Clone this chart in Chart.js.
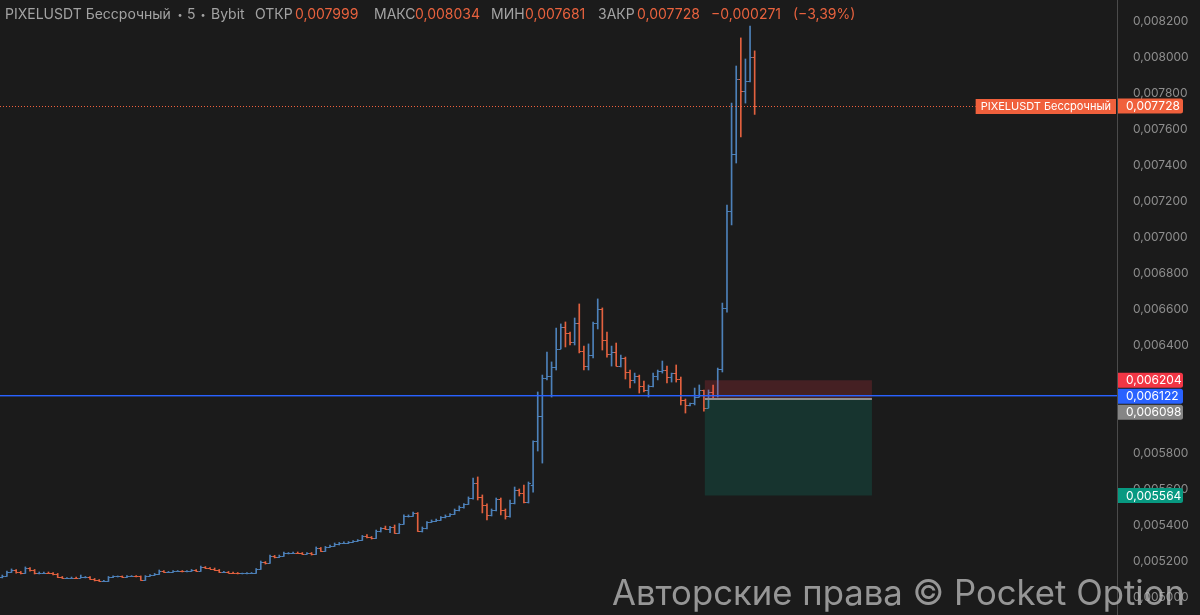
<!DOCTYPE html>
<html>
<head>
<meta charset="utf-8">
<script src="https://cdn.jsdelivr.net/npm/chart.js@4.4.1/dist/chart.umd.min.js"></script>
<style>
html,body{margin:0;background:#1b1b1b;}
canvas{display:block}
</style>
</head>
<body>
<canvas id="chart" width="1200" height="615"></canvas>
<script>
// PIXELUSDT perpetual, 5m bars (Bybit)
const opens=[
0.005111,0.005117,0.005139,0.005150,0.005139,0.005133,0.005161,0.005150,0.005133,0.005133,
0.005136,0.005133,0.005128,0.005111,0.005106,0.005106,0.005108,0.005106,0.005111,0.005111,
0.005100,0.005094,0.005089,0.005089,0.005111,0.005114,0.005114,0.005111,0.005117,0.005117,
0.005114,0.005094,0.005117,0.005122,0.005128,0.005144,0.005139,0.005139,0.005144,0.005144,
0.005142,0.005144,0.005150,0.005144,0.005167,0.005161,0.005158,0.005150,0.005139,0.005139,
0.005136,0.005133,0.005131,0.005131,0.005133,0.005133,0.005156,0.005194,0.005189,0.005228,
0.005222,0.005228,0.005244,0.005244,0.005247,0.005244,0.005239,0.005244,0.005239,0.005272,
0.005256,0.005278,0.005283,0.005294,0.005300,0.005300,0.005306,0.005311,0.005317,0.005339,
0.005333,0.005328,0.005367,0.005383,0.005378,0.005389,0.005356,0.005406,0.005450,0.005450,
0.005467,0.005367,0.005383,0.005417,0.005422,0.005428,0.005444,0.005450,0.005461,0.005483,
0.005500,0.005517,0.005550,0.005633,0.005556,0.005511,0.005456,0.005483,0.005544,0.005483,
0.005450,0.005522,0.005594,0.005578,0.005528,0.005622,0.005867,0.006006,0.006217,0.006228,
0.006278,0.006378,0.006500,0.006467,0.006417,0.006522,0.006367,0.006283,0.006344,0.006522,
0.006600,0.006428,0.006350,0.006361,0.006283,0.006328,0.006250,0.006206,0.006228,0.006172,
0.006150,0.006172,0.006228,0.006256,0.006261,0.006222,0.006244,0.006211,0.006094,0.006067,
0.006078,0.006111,0.006150,0.006050,0.006139,0.006122,0.006267,0.006606,0.007144,0.007461,
0.007878,0.007811,0.007867,0.007999];
const highs=[
0.005122,0.005144,0.005156,0.005153,0.005142,0.005167,0.005164,0.005153,0.005139,0.005139,
0.005139,0.005136,0.005131,0.005114,0.005108,0.005111,0.005111,0.005122,0.005114,0.005114,
0.005103,0.005097,0.005092,0.005114,0.005117,0.005117,0.005117,0.005119,0.005119,0.005119,
0.005117,0.005119,0.005125,0.005131,0.005150,0.005147,0.005142,0.005147,0.005147,0.005147,
0.005147,0.005153,0.005153,0.005172,0.005169,0.005164,0.005161,0.005153,0.005142,0.005142,
0.005139,0.005136,0.005133,0.005136,0.005136,0.005158,0.005200,0.005197,0.005233,0.005231,
0.005233,0.005250,0.005247,0.005250,0.005250,0.005247,0.005247,0.005247,0.005278,0.005275,
0.005281,0.005289,0.005300,0.005303,0.005306,0.005308,0.005314,0.005319,0.005342,0.005347,
0.005336,0.005372,0.005386,0.005394,0.005392,0.005400,0.005408,0.005456,0.005456,0.005472,
0.005469,0.005389,0.005419,0.005428,0.005433,0.005447,0.005456,0.005464,0.005489,0.005506,
0.005519,0.005556,0.005661,0.005667,0.005567,0.005517,0.005489,0.005550,0.005550,0.005489,
0.005539,0.005611,0.005600,0.005622,0.005639,0.005867,0.006139,0.006233,0.006361,0.006306,
0.006494,0.006517,0.006528,0.006472,0.006550,0.006628,0.006394,0.006406,0.006528,0.006656,
0.006606,0.006472,0.006394,0.006411,0.006344,0.006333,0.006261,0.006244,0.006233,0.006200,
0.006178,0.006244,0.006261,0.006311,0.006283,0.006244,0.006289,0.006222,0.006100,0.006078,
0.006161,0.006178,0.006150,0.006150,0.006178,0.006272,0.006633,0.007178,0.007744,0.007950,
0.008106,0.007989,0.008172,0.008034];
const lows=[
0.005106,0.005114,0.005136,0.005133,0.005128,0.005131,0.005144,0.005128,0.005128,0.005131,
0.005131,0.005122,0.005108,0.005103,0.005103,0.005103,0.005103,0.005106,0.005106,0.005097,
0.005089,0.005086,0.005086,0.005086,0.005108,0.005111,0.005108,0.005108,0.005114,0.005111,
0.005092,0.005092,0.005114,0.005119,0.005125,0.005136,0.005136,0.005136,0.005142,0.005139,
0.005139,0.005142,0.005142,0.005142,0.005158,0.005156,0.005147,0.005136,0.005136,0.005133,
0.005131,0.005128,0.005128,0.005128,0.005131,0.005131,0.005153,0.005183,0.005186,0.005217,
0.005219,0.005225,0.005239,0.005242,0.005242,0.005236,0.005236,0.005233,0.005236,0.005253,
0.005253,0.005275,0.005281,0.005289,0.005297,0.005297,0.005303,0.005308,0.005314,0.005328,
0.005322,0.005325,0.005361,0.005375,0.005358,0.005353,0.005353,0.005403,0.005444,0.005447,
0.005364,0.005361,0.005378,0.005414,0.005419,0.005425,0.005439,0.005447,0.005458,0.005478,
0.005494,0.005514,0.005544,0.005539,0.005467,0.005428,0.005450,0.005478,0.005456,0.005433,
0.005444,0.005517,0.005561,0.005522,0.005522,0.005583,0.005811,0.005744,0.006206,0.006111,
0.006261,0.006378,0.006389,0.006400,0.006400,0.006356,0.006261,0.006261,0.006328,0.006489,
0.006372,0.006333,0.006283,0.006283,0.006278,0.006211,0.006161,0.006189,0.006133,0.006139,
0.006111,0.006167,0.006206,0.006244,0.006189,0.006194,0.006194,0.006067,0.006022,0.006061,
0.006067,0.006111,0.006033,0.006050,0.006106,0.006111,0.006250,0.006583,0.007067,0.007411,
0.007556,0.007744,0.007861,0.007681];
const closes=[
0.005117,0.005139,0.005150,0.005139,0.005133,0.005161,0.005150,0.005133,0.005133,0.005136,
0.005133,0.005128,0.005111,0.005106,0.005106,0.005108,0.005106,0.005111,0.005111,0.005100,
0.005094,0.005089,0.005089,0.005111,0.005114,0.005114,0.005111,0.005117,0.005117,0.005114,
0.005094,0.005117,0.005122,0.005128,0.005144,0.005139,0.005139,0.005144,0.005144,0.005142,
0.005144,0.005150,0.005144,0.005167,0.005161,0.005158,0.005150,0.005139,0.005139,0.005136,
0.005133,0.005131,0.005131,0.005133,0.005133,0.005156,0.005194,0.005189,0.005228,0.005222,
0.005228,0.005244,0.005244,0.005247,0.005244,0.005239,0.005244,0.005239,0.005272,0.005256,
0.005278,0.005283,0.005294,0.005300,0.005300,0.005306,0.005311,0.005317,0.005339,0.005333,
0.005328,0.005367,0.005383,0.005378,0.005389,0.005356,0.005406,0.005450,0.005450,0.005467,
0.005367,0.005383,0.005417,0.005422,0.005428,0.005444,0.005450,0.005461,0.005483,0.005500,
0.005517,0.005550,0.005633,0.005556,0.005511,0.005456,0.005483,0.005544,0.005483,0.005450,
0.005522,0.005594,0.005578,0.005528,0.005633,0.005867,0.006006,0.006217,0.006228,0.006278,
0.006378,0.006500,0.006467,0.006417,0.006522,0.006367,0.006283,0.006344,0.006522,0.006600,
0.006428,0.006350,0.006361,0.006283,0.006328,0.006250,0.006206,0.006228,0.006172,0.006150,
0.006172,0.006228,0.006256,0.006261,0.006222,0.006244,0.006211,0.006094,0.006067,0.006078,
0.006111,0.006150,0.006050,0.006139,0.006122,0.006267,0.006606,0.007144,0.007461,0.007878,
0.007811,0.007867,0.007999,0.007728];

const yTicks=[0.0082,0.0080,0.0078,0.0076,0.0074,0.0072,0.0070,0.0068,0.0066,0.0064,0.0058,0.0056,0.0054,0.0052,0.0050];
const slots=242;               // bar slots across the pane (empty space on the right)
const lastPrice=0.007728;
const lineLevel=0.006122;      // blue horizontal line
const stopLevel=0.006204;
const entryLevel=0.006098;
const targetLevel=0.005564;
const boxFrom=152.2, boxTo=188.4;
const titleParts=[
  {t:'PIXELUSDT Бессрочный',x:5,val:false},{t:'•',x:177.5,val:false,dot:true},{t:'5',x:187,val:false},
  {t:'•',x:200.5,val:false,dot:true},{t:'Bybit',x:211,val:false},
  {t:'ОТКР',x:255,val:false},{t:'0,007999',x:295,val:true},
  {t:'МАКС',x:374,val:false},{t:'0,008034',x:415,val:true},
  {t:'МИН',x:491,val:false},{t:'0,007681',x:525,val:true},
  {t:'ЗАКР',x:598,val:false},{t:'0,007728',x:637,val:true},
  {t:'−0,000271',x:711,val:true},{t:'(−3,39%)',x:793,val:true}
];

const UP='#4d81b9', DOWN='#e2613f', ORANGE='#f0603c', BLUE='#2962ff';
const fmt=v=>v.toFixed(6).replace('.',',');
const colors=opens.map((o,i)=>closes[i]>=o?UP:DOWN);
const labels=Array.from({length:slots},(_,i)=>i);

function roundRect(ctx,x,y,w,h,r){
  ctx.beginPath();
  ctx.moveTo(x,y);ctx.lineTo(x+w-r,y);ctx.quadraticCurveTo(x+w,y,x+w,y+r);
  ctx.lineTo(x+w,y+h-r);ctx.quadraticCurveTo(x+w,y+h,x+w-r,y+h);
  ctx.lineTo(x,y+h);ctx.closePath();ctx.fill();
}

const ohlcTicks={id:'ohlcTicks',afterDatasetsDraw(chart){
  const {ctx,scales:{x,y}}=chart;
  ctx.save();ctx.lineWidth=1;
  opens.forEach((o,i)=>{
    const px=x.getPixelForValue(i);
    const yo=Math.round(y.getPixelForValue(o))+0.5, yc=Math.round(y.getPixelForValue(closes[i]))+0.5;
    ctx.strokeStyle=colors[i];
    ctx.beginPath();
    ctx.moveTo(px-2.4,yo);ctx.lineTo(px,yo);
    ctx.moveTo(px,yc);ctx.lineTo(px+2.4,yc);
    ctx.stroke();
  });
  ctx.restore();
}};

const overlay={id:'overlay',afterDraw(chart){
  const {ctx,chartArea:a,scales:{x,y}}=chart;
  ctx.save();
  // position box
  const bx0=x.getPixelForValue(boxFrom), bx1=x.getPixelForValue(boxTo);
  const ys=y.getPixelForValue(stopLevel), ye=y.getPixelForValue(entryLevel), yt=y.getPixelForValue(targetLevel);
  ctx.fillStyle='rgba(242,54,69,0.2)';ctx.fillRect(bx0,ys,bx1-bx0,ye-ys);
  ctx.fillStyle='rgba(8,153,129,0.2)';ctx.fillRect(bx0,ye,bx1-bx0,yt-ye);
  ctx.fillStyle='#8f8f8f';ctx.fillRect(bx0,Math.round(ye)-1,bx1-bx0,2);
  // blue line
  const yl=Math.round(y.getPixelForValue(lineLevel));
  ctx.fillStyle=BLUE;ctx.fillRect(a.left,yl,a.right-a.left,1);
  ctx.fillStyle='rgba(41,98,255,0.4)';ctx.fillRect(a.left,yl+1,a.right-a.left,1);
  // last price dotted line + name box
  ctx.font='11px Inter';
  const yp=Math.round(y.getPixelForValue(lastPrice))+0.5;
  const name='PIXELUSDT Бессрочный';
  const nw=ctx.measureText(name).width+10;
  const nx=a.right-1-nw;
  ctx.strokeStyle=ORANGE;ctx.lineWidth=1;ctx.setLineDash([1,2]);
  ctx.beginPath();ctx.moveTo(a.left,yp);ctx.lineTo(nx,yp);ctx.stroke();
  ctx.setLineDash([]);
  ctx.fillStyle=ORANGE;ctx.fillRect(nx,yp-7.5,nw,15);
  ctx.fillStyle='#ffffff';ctx.textBaseline='middle';ctx.textAlign='left';
  ctx.fillText(name,nx+5,yp+0.5);
  // axis price labels
  ctx.font='12px Inter';
  const tags=[
    {v:lastPrice,c:ORANGE},{v:stopLevel,c:'#f23645'},{v:lineLevel,c:BLUE},
    {v:entryLevel,c:'#858585'},{v:targetLevel,c:'#089981'}
  ].map(t=>({...t,py:y.getPixelForValue(t.v)})).sort((p,q)=>p.py-q.py);
  for(let i=1;i<tags.length;i++){ if(tags[i].py<tags[i-1].py+16) tags[i].py=tags[i-1].py+16; }
  tags.forEach(t=>{
    ctx.fillStyle=t.c;roundRect(ctx,a.right+1,t.py-7.5,65,15,2.5);
    ctx.fillStyle='#ffffff';ctx.fillText(fmt(t.v),a.right+9,t.py+0.5);
  });
  // title
  titleParts.forEach(p=>{
    ctx.font=p.dot?'9px Inter':'14px Inter';
    ctx.fillStyle=p.val?'#e8623e':'#a3a3a3';ctx.fillText(p.t,p.x,15);
  });
  // watermark
  const wm='Авторские права © Pocket Option';
  ctx.font='40px Inter';
  const s=40*573/ctx.measureText(wm).width;
  ctx.font=s.toFixed(1)+'px Inter';
  ctx.fillStyle='rgba(185,185,185,0.78)';ctx.textBaseline='alphabetic';
  ctx.fillText(wm,612,605);
  ctx.restore();
}};

new Chart(document.getElementById('chart'),{
  type:'bar',
  data:{labels,datasets:[{
    data:opens.map((o,i)=>[lows[i],highs[i]]),
    backgroundColor:colors,barThickness:1,borderWidth:0
  }]},
  options:{
    responsive:false,animation:false,devicePixelRatio:1,
    layout:{padding:0},
    plugins:{legend:{display:false},tooltip:{enabled:false}},
    scales:{
      x:{display:false,offset:true},
      y:{position:'right',min:0.0049,max:0.00831667,
        grid:{display:false},border:{color:'#4b4b4b'},
        afterBuildTicks:s=>{s.ticks=yTicks.map(v=>({value:v}));},
        afterFit:s=>{s.width=83;s.paddingTop=0;s.paddingBottom=0;},
        ticks:{color:'#8e8e8e',font:{family:'Inter',size:12},padding:8,callback:v=>fmt(v)}
      }
    }
  },
  plugins:[ohlcTicks,overlay]
});
</script>
</body>
</html>
